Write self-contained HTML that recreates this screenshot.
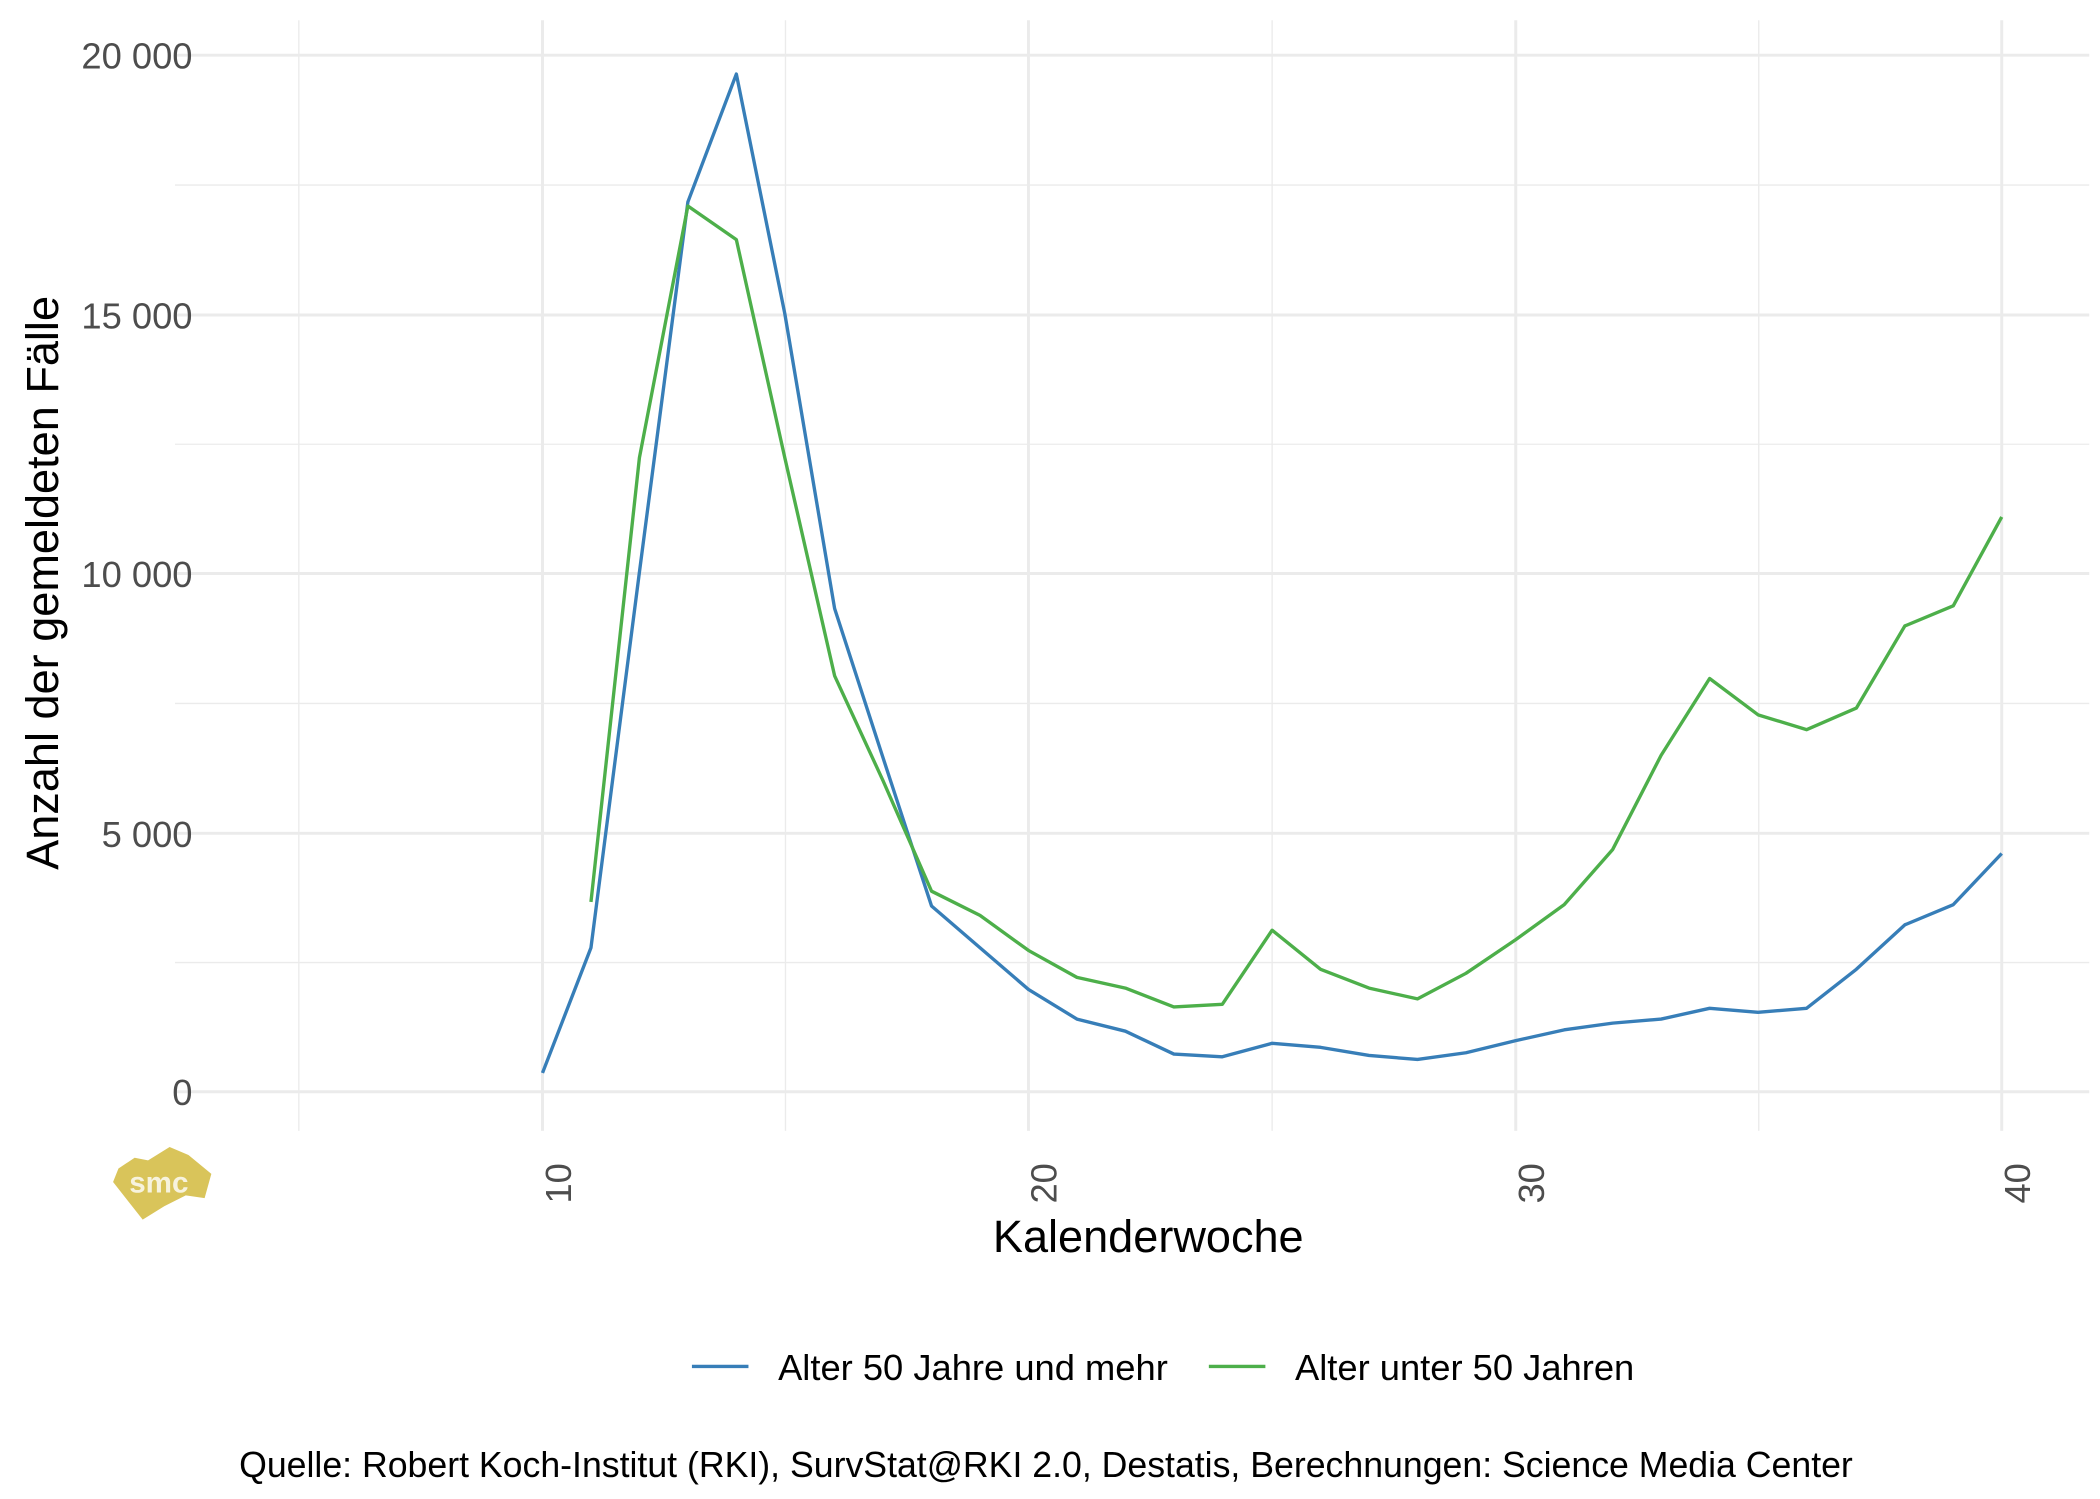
<!DOCTYPE html>
<html><head><meta charset="utf-8"><style>
html,body{margin:0;padding:0;background:#fff;width:2100px;height:1499px;overflow:hidden}
svg{display:block}
text{font-family:"Liberation Sans",sans-serif}
</style></head><body>
<svg width="2100" height="1499" viewBox="0 0 1560 1113.5" preserveAspectRatio="none" xmlns="http://www.w3.org/2000/svg">
<rect width="1560" height="1113.5" fill="#fff"/>
<g stroke="#ebebeb" stroke-width="1">
<line x1="130" x2="1552" y1="137.5" y2="137.5"/>
<line x1="130" x2="1552" y1="330" y2="330"/>
<line x1="130" x2="1552" y1="522.5" y2="522.5"/>
<line x1="130" x2="1552" y1="715" y2="715"/>
<line x1="222" x2="222" y1="15" y2="840"/>
<line x1="583.5" x2="583.5" y1="15" y2="840"/>
<line x1="945" x2="945" y1="15" y2="840"/>
<line x1="1306.5" x2="1306.5" y1="15" y2="840"/>
</g>
<g stroke="#ebebeb" stroke-width="2.2">
<line x1="130" x2="1552" y1="41" y2="41"/>
<line x1="130" x2="1552" y1="234" y2="234"/>
<line x1="130" x2="1552" y1="426" y2="426"/>
<line x1="130" x2="1552" y1="619" y2="619"/>
<line x1="130" x2="1552" y1="811" y2="811"/>
<line x1="403" x2="403" y1="15" y2="840"/>
<line x1="764" x2="764" y1="15" y2="840"/>
<line x1="1126" x2="1126" y1="15" y2="840"/>
<line x1="1487" x2="1487" y1="15" y2="840"/>
</g>
<g font-size="27" fill="#4d4d4d" text-anchor="end">
<text x="143" y="51">20 000</text>
<text x="143" y="244">15 000</text>
<text x="143" y="436">10 000</text>
<text x="143" y="629">5 000</text>
<text x="143" y="821">0</text>
</g>
<g font-size="27" fill="#4d4d4d" text-anchor="middle">
<text transform="translate(424,879) rotate(-90)">10</text>
<text transform="translate(785,879) rotate(-90)">20</text>
<text transform="translate(1147,879) rotate(-90)">30</text>
<text transform="translate(1508,879) rotate(-90)">40</text>
</g>
<text x="853" y="930" font-size="33.5" text-anchor="middle" fill="#000">Kalenderwoche</text>
<text transform="translate(43,433) rotate(-90)" font-size="33.5" text-anchor="middle" fill="#000">Anzahl der gemeldeten Fälle</text>
<polyline fill="none" stroke="#377eb8" stroke-width="2.5" stroke-linejoin="round" points="403,797 439,704 475,425 511,150 547,55 583,233 620,452 656,563 692,673 728,704 764,735 800,757 836,766 872,783 908,785 945,775 981,778 1017,784 1053,787 1089,782 1126,773 1162,765 1198,760 1234,757 1270,749 1306,752 1342,749 1379,720 1415,687 1451,672 1487,634"/>
<polyline fill="none" stroke="#4daf4a" stroke-width="2.5" stroke-linejoin="round" points="439,670 475,340 511,153 547,178 583,340 620,502 656,580 692,662 728,680 764,706 800,726 836,734 872,748 908,746 945,691 981,720 1017,734 1053,742 1089,723 1126,698 1162,672 1198,631 1234,561 1270,504 1306,531 1342,542 1379,526 1415,465 1451,450 1487,384"/>
<g>
<polygon points="88,868 100,860 110,862 126,852 140,858 157,872 152,890 138,888 122,896 106,906 84,878" fill="#d9c45a"/>
<text x="118" y="886" font-size="22" font-weight="bold" fill="#fff" text-anchor="middle" opacity="0.8">smc</text>
</g>
<line x1="514" x2="556" y1="1015" y2="1015" stroke="#377eb8" stroke-width="2.5"/>
<text x="578" y="1025" font-size="27" fill="#000">Alter 50 Jahre und mehr</text>
<line x1="898" x2="940" y1="1015" y2="1015" stroke="#4daf4a" stroke-width="2.5"/>
<text x="962" y="1025" font-size="27" fill="#000">Alter unter 50 Jahren</text>
<text x="777" y="1097" font-size="26.5" text-anchor="middle" fill="#000">Quelle: Robert Koch-Institut (RKI), SurvStat@RKI 2.0, Destatis, Berechnungen: Science Media Center</text>
</svg>
</body></html>
